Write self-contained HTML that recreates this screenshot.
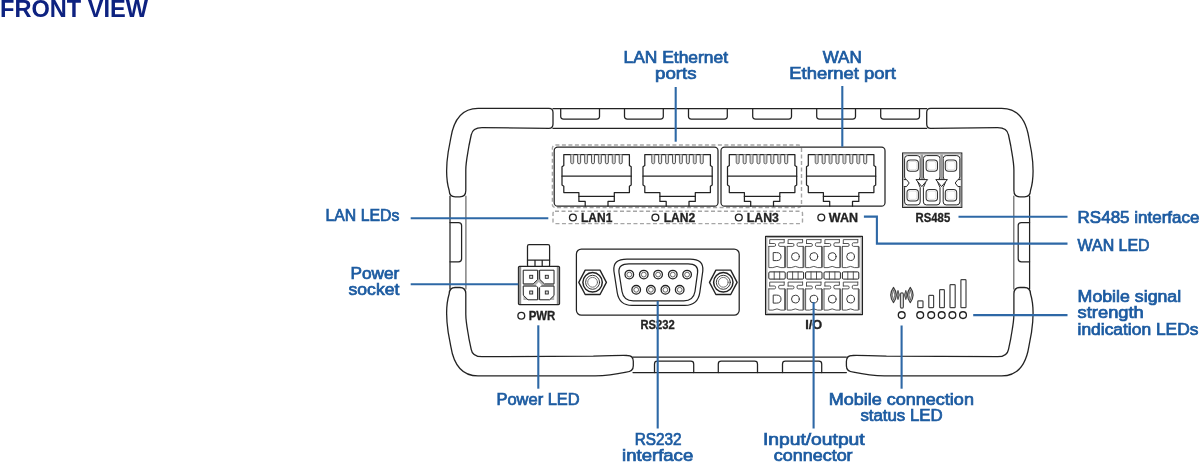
<!DOCTYPE html>
<html><head><meta charset="utf-8"><title>Front view</title>
<style>
html,body{margin:0;padding:0;background:#fff;}
body{width:1200px;height:462px;overflow:hidden;font-family:"Liberation Sans",sans-serif;}
svg{display:block;}
.lbl{font-family:"Liberation Sans",sans-serif;font-size:16px;fill:#1c5ba1;stroke:#1c5ba1;stroke-width:0.7px;}
.dev{font-family:"Liberation Sans",sans-serif;font-weight:bold;font-size:12.2px;fill:#222;stroke:#222;stroke-width:0.3px;}
.ln{stroke:#2f68a6;stroke-width:2.1;fill:none;}
.o{stroke:#242424;stroke-width:1.25;fill:none;stroke-linejoin:round;stroke-linecap:round;}
.ow{stroke:#242424;stroke-width:1.25;fill:#fff;stroke-linejoin:round;}
</style></head><body>
<svg width="1200" height="462" viewBox="0 0 1200 462">
<defs><filter id="soft" x="0" y="0" width="1200" height="462" filterUnits="userSpaceOnUse"><feGaussianBlur stdDeviation="0.38"/></filter></defs>
<rect width="1200" height="462" fill="#fff"/>
<g filter="url(#soft)">

<text x="0" y="17" font-family="Liberation Sans, sans-serif" font-weight="bold" font-size="24.5" fill="#0d2180" textLength="148" lengthAdjust="spacingAndGlyphs">FRONT VIEW</text>
<g class="o">
<path d="M553 108.5H926.7M553 128.4H926.7"/>
<path d="M633 357H846.4M633 372.5H846.4"/>
<path d="M450 196V289M1029.6 196V289"/>
<path d="M465.9 196V289M1013.8 196V289" stroke="#6a6a6a"/>
<path d="M560.7 108.5V116.6Q560.7 119.1 563.5 119.1H596.7Q599.5 119.1 599.5 116.6V108.5"/>
<path d="M624.5 108.5V116.6Q624.5 119.1 627.3 119.1H660.5Q663.3 119.1 663.3 116.6V108.5"/>
<path d="M688.5 108.5V116.6Q688.5 119.1 691.3 119.1H724.5Q727.3 119.1 727.3 116.6V108.5"/>
<path d="M752.7 108.5V116.6Q752.7 119.1 755.5 119.1H788.7Q791.5 119.1 791.5 116.6V108.5"/>
<path d="M816.7 108.5V116.6Q816.7 119.1 819.5 119.1H852.7Q855.5 119.1 855.5 116.6V108.5"/>
<path d="M880.7 108.5V116.6Q880.7 119.1 883.5 119.1H916.7Q919.5 119.1 919.5 116.6V108.5"/>
<path d="M654.5 372.5V364Q654.5 361.2 657.3 361.2H690.9Q693.7 361.2 693.7 364V372.5"/>
<path d="M718.3 372.5V364Q718.3 361.2 721.1 361.2H754.7Q757.5 361.2 757.5 364V372.5"/>
<path d="M782.5 372.5V364Q782.5 361.2 785.3 361.2H818.9Q821.7 361.2 821.7 364V372.5"/>
<path d="M450 222.5H458.5Q461.6 222.5 461.6 225.5V258.8Q461.6 261.8 458.5 261.8H450"/>
<path d="M1029.6 222.5H1021.3Q1018.2 222.5 1018.2 225.5V258.8Q1018.2 261.8 1021.3 261.8H1029.6"/>
</g>
<g style="stroke-width:1.3" class="ow">
<path d="M478 108.4H549.0Q553.0 108.4 553.0 112.5V124Q553.0 128.3 549.0 128.3L482 127.6C475 127.6 472 130 471.2 135L469 145.5C467.5 155 465.8 162 465.8 170V190.5Q465.8 196.8 459.8 196.8H455.2Q449.4 196.8 449.2 190.5C446 180 446.2 165 448.2 152L450.8 138C454 118 464 108.4 478 108.4Z"/>
<path d="M478 108.4H549.0Q553.0 108.4 553.0 112.5V124Q553.0 128.3 549.0 128.3L482 127.6C475 127.6 472 130 471.2 135L469 145.5C467.5 155 465.8 162 465.8 170V190.5Q465.8 196.8 459.8 196.8H455.2Q449.4 196.8 449.2 190.5C446 180 446.2 165 448.2 152L450.8 138C454 118 464 108.4 478 108.4Z" transform="translate(1479.70 0) scale(-1 1)"/>
<path d="M478 108.4H595.3Q609.3 108.6 626.3 112.2Q633.3 112.6 633.3 118.5V123Q633.3 128.8 627.3 128.8Q619.3 129 593.3 128.2L482 127.6C475 127.6 472 130 471.2 135L469 145.5C467.5 155 465.8 162 465.8 170V190.5Q465.8 196.8 459.8 196.8H455.2Q449.4 196.8 449.2 190.5C446 180 446.2 165 448.2 152L450.8 138C454 118 464 108.4 478 108.4Z" transform="translate(0 484.30) scale(1 -1)"/>
<path d="M478 108.4H595.3Q609.3 108.6 626.3 112.2Q633.3 112.6 633.3 118.5V123Q633.3 128.8 627.3 128.8Q619.3 129 593.3 128.2L482 127.6C475 127.6 472 130 471.2 135L469 145.5C467.5 155 465.8 162 465.8 170V190.5Q465.8 196.8 459.8 196.8H455.2Q449.4 196.8 449.2 190.5C446 180 446.2 165 448.2 152L450.8 138C454 118 464 108.4 478 108.4Z" transform="translate(1479.70 484.30) scale(-1 -1)"/>
</g>
<g fill="none" stroke="#a6a6a6" stroke-width="1.4" stroke-dasharray="4 2.5">
<rect x="552.4" y="145" width="249" height="62.5" rx="3"/>
<rect x="553" y="211.3" width="249.5" height="12.3" rx="2"/>
</g>
<g class="ow">
<rect x="554.2" y="147.2" width="163.8" height="59" rx="3.5"/>
<rect x="721" y="147.2" width="164" height="59" rx="3.5"/>
</g>
<path d="M801.5 148V206" fill="none" stroke="#a6a6a6" stroke-width="1.4" stroke-dasharray="4 2.5"/>
<path class="o" d="M563.8 165.6V154.5H629.4V165.6L631.2 166.8V185L629.4 186.2V192.6H614.3V201.4H608.0V206.2M585.2 206.2V201.4H578.9V192.6H563.8V186.2L562.0 185V166.8L563.8 165.6"/><path class="o" d="M562.0 176.2H631.2"/><path class="o" d="M578.9 196.4H614.3"/><path d="M570.70 154.5V162.2Q570.70 163.8 572.20 163.8Q573.70 163.8 573.70 162.2V154.5" fill="#d2d2d2" stroke="#5a5a5a" stroke-width="0.9"/><path d="M577.63 154.5V162.2Q577.63 163.8 579.13 163.8Q580.63 163.8 580.63 162.2V154.5" fill="#e6e6e6" stroke="#3f3f3f" stroke-width="0.9"/><path d="M584.56 154.5V162.2Q584.56 163.8 586.06 163.8Q587.56 163.8 587.56 162.2V154.5" fill="#d2d2d2" stroke="#5a5a5a" stroke-width="0.9"/><path d="M591.49 154.5V162.2Q591.49 163.8 592.99 163.8Q594.49 163.8 594.49 162.2V154.5" fill="#e6e6e6" stroke="#3f3f3f" stroke-width="0.9"/><path d="M598.42 154.5V162.2Q598.42 163.8 599.92 163.8Q601.42 163.8 601.42 162.2V154.5" fill="#d2d2d2" stroke="#5a5a5a" stroke-width="0.9"/><path d="M605.35 154.5V162.2Q605.35 163.8 606.85 163.8Q608.35 163.8 608.35 162.2V154.5" fill="#e6e6e6" stroke="#3f3f3f" stroke-width="0.9"/><path d="M612.28 154.5V162.2Q612.28 163.8 613.78 163.8Q615.28 163.8 615.28 162.2V154.5" fill="#d2d2d2" stroke="#5a5a5a" stroke-width="0.9"/><path d="M619.21 154.5V162.2Q619.21 163.8 620.71 163.8Q622.21 163.8 622.21 162.2V154.5" fill="#e6e6e6" stroke="#3f3f3f" stroke-width="0.9"/>
<path class="o" d="M644.8 165.6V154.5H710.4V165.6L712.2 166.8V185L710.4 186.2V192.6H695.3V201.4H689.0V206.2M666.2 206.2V201.4H659.9V192.6H644.8V186.2L643.0 185V166.8L644.8 165.6"/><path class="o" d="M643.0 176.2H712.2"/><path class="o" d="M659.9 196.4H695.3"/><path d="M651.70 154.5V162.2Q651.70 163.8 653.20 163.8Q654.70 163.8 654.70 162.2V154.5" fill="#d2d2d2" stroke="#5a5a5a" stroke-width="0.9"/><path d="M658.63 154.5V162.2Q658.63 163.8 660.13 163.8Q661.63 163.8 661.63 162.2V154.5" fill="#e6e6e6" stroke="#3f3f3f" stroke-width="0.9"/><path d="M665.56 154.5V162.2Q665.56 163.8 667.06 163.8Q668.56 163.8 668.56 162.2V154.5" fill="#d2d2d2" stroke="#5a5a5a" stroke-width="0.9"/><path d="M672.49 154.5V162.2Q672.49 163.8 673.99 163.8Q675.49 163.8 675.49 162.2V154.5" fill="#e6e6e6" stroke="#3f3f3f" stroke-width="0.9"/><path d="M679.42 154.5V162.2Q679.42 163.8 680.92 163.8Q682.42 163.8 682.42 162.2V154.5" fill="#d2d2d2" stroke="#5a5a5a" stroke-width="0.9"/><path d="M686.35 154.5V162.2Q686.35 163.8 687.85 163.8Q689.35 163.8 689.35 162.2V154.5" fill="#e6e6e6" stroke="#3f3f3f" stroke-width="0.9"/><path d="M693.28 154.5V162.2Q693.28 163.8 694.78 163.8Q696.28 163.8 696.28 162.2V154.5" fill="#d2d2d2" stroke="#5a5a5a" stroke-width="0.9"/><path d="M700.21 154.5V162.2Q700.21 163.8 701.71 163.8Q703.21 163.8 703.21 162.2V154.5" fill="#e6e6e6" stroke="#3f3f3f" stroke-width="0.9"/>
<path class="o" d="M729.3 165.6V154.5H794.9V165.6L796.7 166.8V185L794.9 186.2V192.6H779.8V201.4H773.5V206.2M750.7 206.2V201.4H744.4V192.6H729.3V186.2L727.5 185V166.8L729.3 165.6"/><path class="o" d="M727.5 176.2H796.7"/><path class="o" d="M744.4 196.4H779.8"/><path d="M736.20 154.5V162.2Q736.20 163.8 737.70 163.8Q739.20 163.8 739.20 162.2V154.5" fill="#d2d2d2" stroke="#5a5a5a" stroke-width="0.9"/><path d="M743.13 154.5V162.2Q743.13 163.8 744.63 163.8Q746.13 163.8 746.13 162.2V154.5" fill="#e6e6e6" stroke="#3f3f3f" stroke-width="0.9"/><path d="M750.06 154.5V162.2Q750.06 163.8 751.56 163.8Q753.06 163.8 753.06 162.2V154.5" fill="#d2d2d2" stroke="#5a5a5a" stroke-width="0.9"/><path d="M756.99 154.5V162.2Q756.99 163.8 758.49 163.8Q759.99 163.8 759.99 162.2V154.5" fill="#e6e6e6" stroke="#3f3f3f" stroke-width="0.9"/><path d="M763.92 154.5V162.2Q763.92 163.8 765.42 163.8Q766.92 163.8 766.92 162.2V154.5" fill="#d2d2d2" stroke="#5a5a5a" stroke-width="0.9"/><path d="M770.85 154.5V162.2Q770.85 163.8 772.35 163.8Q773.85 163.8 773.85 162.2V154.5" fill="#e6e6e6" stroke="#3f3f3f" stroke-width="0.9"/><path d="M777.78 154.5V162.2Q777.78 163.8 779.28 163.8Q780.78 163.8 780.78 162.2V154.5" fill="#d2d2d2" stroke="#5a5a5a" stroke-width="0.9"/><path d="M784.71 154.5V162.2Q784.71 163.8 786.21 163.8Q787.71 163.8 787.71 162.2V154.5" fill="#e6e6e6" stroke="#3f3f3f" stroke-width="0.9"/>
<path class="o" d="M808.3 165.6V154.5H873.9V165.6L875.7 166.8V185L873.9 186.2V192.6H858.8V201.4H852.5V206.2M829.7 206.2V201.4H823.4V192.6H808.3V186.2L806.5 185V166.8L808.3 165.6"/><path class="o" d="M806.5 176.2H875.7"/><path class="o" d="M823.4 196.4H858.8"/><path d="M815.20 154.5V162.2Q815.20 163.8 816.70 163.8Q818.20 163.8 818.20 162.2V154.5" fill="#d2d2d2" stroke="#5a5a5a" stroke-width="0.9"/><path d="M822.13 154.5V162.2Q822.13 163.8 823.63 163.8Q825.13 163.8 825.13 162.2V154.5" fill="#e6e6e6" stroke="#3f3f3f" stroke-width="0.9"/><path d="M829.06 154.5V162.2Q829.06 163.8 830.56 163.8Q832.06 163.8 832.06 162.2V154.5" fill="#d2d2d2" stroke="#5a5a5a" stroke-width="0.9"/><path d="M835.99 154.5V162.2Q835.99 163.8 837.49 163.8Q838.99 163.8 838.99 162.2V154.5" fill="#e6e6e6" stroke="#3f3f3f" stroke-width="0.9"/><path d="M842.92 154.5V162.2Q842.92 163.8 844.42 163.8Q845.92 163.8 845.92 162.2V154.5" fill="#d2d2d2" stroke="#5a5a5a" stroke-width="0.9"/><path d="M849.85 154.5V162.2Q849.85 163.8 851.35 163.8Q852.85 163.8 852.85 162.2V154.5" fill="#e6e6e6" stroke="#3f3f3f" stroke-width="0.9"/><path d="M856.78 154.5V162.2Q856.78 163.8 858.28 163.8Q859.78 163.8 859.78 162.2V154.5" fill="#d2d2d2" stroke="#5a5a5a" stroke-width="0.9"/><path d="M863.71 154.5V162.2Q863.71 163.8 865.21 163.8Q866.71 163.8 866.71 162.2V154.5" fill="#e6e6e6" stroke="#3f3f3f" stroke-width="0.9"/>
<circle cx="572.9" cy="217.5" r="3.4" style="stroke-width:1.35" class="o"/>
<text class="dev" x="581.0" y="221.8" textLength="31.3" lengthAdjust="spacingAndGlyphs">LAN1</text>
<circle cx="655.4" cy="217.5" r="3.4" style="stroke-width:1.35" class="o"/>
<text class="dev" x="663.7" y="221.8" textLength="31.5" lengthAdjust="spacingAndGlyphs">LAN2</text>
<circle cx="738.8" cy="217.5" r="3.4" style="stroke-width:1.35" class="o"/>
<text class="dev" x="746.8" y="221.8" textLength="32.0" lengthAdjust="spacingAndGlyphs">LAN3</text>
<circle cx="821.3" cy="217.5" r="3.4" style="stroke-width:1.35" class="o"/>
<text class="dev" x="828.8" y="221.8" textLength="29.2" lengthAdjust="spacingAndGlyphs">WAN</text>
<g>
<rect x="902.6" y="153" width="59.2" height="54.4" fill="#fff" stroke="#242424" stroke-width="1.1"/>
<rect x="903.7" y="154.1" width="57" height="52.2" fill="none" stroke="#a8a8a8" stroke-width="1"/>
<path d="M907.6 155.6H917.2Q920.2 155.6 920.2 158.6V177L918.0 182.5L920.2 187.5V201.9Q920.2 204.9 917.2 204.9H907.6Q904.6 204.9 904.6 201.9V187.5L906.8 182.5L904.6 177V158.6Q904.6 155.6 907.6 155.6Z" fill="#fff" stroke="#242424" stroke-width="1" stroke-linejoin="round"/>
<path d="M926.4 155.6H937.0Q940.0 155.6 940.0 158.6V177L937.8 182.5L940.0 187.5V201.9Q940.0 204.9 937.0 204.9H926.4Q923.4 204.9 923.4 201.9V187.5L925.6 182.5L923.4 177V158.6Q923.4 155.6 926.4 155.6Z" fill="#fff" stroke="#242424" stroke-width="1" stroke-linejoin="round"/>
<path d="M946.2 155.6H956.8Q959.8 155.6 959.8 158.6V177L957.6 182.5L959.8 187.5V201.9Q959.8 204.9 956.8 204.9H946.2Q943.2 204.9 943.2 201.9V187.5L945.4 182.5L943.2 177V158.6Q943.2 155.6 946.2 155.6Z" fill="#fff" stroke="#242424" stroke-width="1" stroke-linejoin="round"/>
<path d="M921.8 154.5V180" stroke="#9b9b9b" stroke-width="2.6" fill="none"/>
<path d="M916.0 179.6H927.6L921.8 186.6Z" fill="#fff" stroke="#242424" stroke-width="1" stroke-linejoin="round"/>
<path d="M941.6 154.5V180" stroke="#9b9b9b" stroke-width="2.6" fill="none"/>
<path d="M935.8 179.6H947.4L941.6 186.6Z" fill="#fff" stroke="#242424" stroke-width="1" stroke-linejoin="round"/>
<path d="M903.8 179.6H906.5L909.2 183L906.5 186.6H903.8M960.6 179.6H957.9L955.2 183L957.9 186.6H960.6" fill="#fff" stroke="#242424" stroke-width="1"/>
<rect x="907.0" y="159.9" width="11.4" height="11.4" rx="3.2" fill="#fff" stroke="#333" stroke-width="1.05"/>
<rect x="908.5" y="161.4" width="8.4" height="8.4" rx="2.2" fill="none" stroke="#d0d0d0" stroke-width="0.7"/>
<rect x="907.0" y="189.5" width="11.4" height="11.4" rx="3.2" fill="#fff" stroke="#333" stroke-width="1.05"/>
<rect x="908.5" y="191.0" width="8.4" height="8.4" rx="2.2" fill="none" stroke="#d0d0d0" stroke-width="0.7"/>
<rect x="926.1" y="159.9" width="11.4" height="11.4" rx="3.2" fill="#fff" stroke="#333" stroke-width="1.05"/>
<rect x="927.6" y="161.4" width="8.4" height="8.4" rx="2.2" fill="none" stroke="#d0d0d0" stroke-width="0.7"/>
<rect x="926.1" y="189.5" width="11.4" height="11.4" rx="3.2" fill="#fff" stroke="#333" stroke-width="1.05"/>
<rect x="927.6" y="191.0" width="8.4" height="8.4" rx="2.2" fill="none" stroke="#d0d0d0" stroke-width="0.7"/>
<rect x="945.3" y="159.9" width="11.4" height="11.4" rx="3.2" fill="#fff" stroke="#333" stroke-width="1.05"/>
<rect x="946.8" y="161.4" width="8.4" height="8.4" rx="2.2" fill="none" stroke="#d0d0d0" stroke-width="0.7"/>
<rect x="945.3" y="189.5" width="11.4" height="11.4" rx="3.2" fill="#fff" stroke="#333" stroke-width="1.05"/>
<rect x="946.8" y="191.0" width="8.4" height="8.4" rx="2.2" fill="none" stroke="#d0d0d0" stroke-width="0.7"/>
</g>
<text class="dev" x="915.6" y="221.8" textLength="34.6" lengthAdjust="spacingAndGlyphs">RS485</text>
<g>
<rect x="527.5" y="244.7" width="22.1" height="22" rx="1.5" class="ow"/>
<path class="o" d="M527.5 260H549.6M535 260V266.5M542.2 260V266.5"/>
<rect x="518.4" y="266.4" width="41.2" height="38.2" rx="1.2" fill="#fff" stroke="#242424" stroke-width="1.1"/>
<path d="M520.1 267V304M557.9 267V304" stroke="#8f8f8f" stroke-width="2.2" fill="none"/>
<rect x="523.4" y="270" width="30.8" height="30" fill="#b4b4b4" stroke="none"/>
<path style="stroke-width:1;fill:#fff" class="o" d="M523.6 270.2H537.6V279.6L533.2 283.9H523.6ZM540 270.2H554V283.9H544.4L540 279.6ZM523.6 286.1H537.6V299.8H528L523.6 295.5ZM540 286.1H554V295.5L549.6 299.8H540Z"/>
<path d="M538.8 282L541.8 285L538.8 288L535.8 285Z" fill="#fff" stroke="none"/>
<rect x="529.7" y="275.3" width="3" height="3" fill="#ddd" stroke="#242424" stroke-width="0.9"/>
<rect x="545.3" y="275.3" width="3" height="3" fill="#ddd" stroke="#242424" stroke-width="0.9"/>
<rect x="529.7" y="291.0" width="3" height="3" fill="#ddd" stroke="#242424" stroke-width="0.9"/>
<rect x="545.3" y="291.0" width="3" height="3" fill="#ddd" stroke="#242424" stroke-width="0.9"/>
</g>
<circle cx="521.3" cy="315.8" r="3.4" style="stroke-width:1.35" class="o"/>
<text class="dev" x="528.7" y="320.3" textLength="26.6" lengthAdjust="spacingAndGlyphs">PWR</text>
<rect x="576.4" y="249" width="162.8" height="66.2" rx="5" class="ow"/>
<path class="o" d="M627 259H690Q704 259 702.8 271L699.8 292.5Q697.8 305.4 685 305.4H632Q619.2 305.4 617.2 292.5L613.9 271Q612.6 259 627 259Z"/>
<path class="o" d="M629 263.8H688Q698.6 263.8 697.6 272.5L695 291.5Q693.4 300.8 683.8 300.8H633.2Q623.6 300.8 622 291.5L619 272.5Q618 263.8 629 263.8Z"/>
<circle cx="629.3" cy="274.6" r="4.3" style="stroke-width:1.3" class="o"/><circle cx="629.3" cy="274.6" r="2.4" fill="none" stroke="#555" stroke-width="0.9"/>
<circle cx="643.8" cy="274.6" r="4.3" style="stroke-width:1.3" class="o"/><circle cx="643.8" cy="274.6" r="2.4" fill="none" stroke="#555" stroke-width="0.9"/>
<circle cx="658.1" cy="274.6" r="4.3" style="stroke-width:1.3" class="o"/><circle cx="658.1" cy="274.6" r="2.4" fill="none" stroke="#555" stroke-width="0.9"/>
<circle cx="672.8" cy="274.6" r="4.3" style="stroke-width:1.3" class="o"/><circle cx="672.8" cy="274.6" r="2.4" fill="none" stroke="#555" stroke-width="0.9"/>
<circle cx="687.1" cy="274.6" r="4.3" style="stroke-width:1.3" class="o"/><circle cx="687.1" cy="274.6" r="2.4" fill="none" stroke="#555" stroke-width="0.9"/>
<circle cx="636.2" cy="289.8" r="4.3" style="stroke-width:1.3" class="o"/><circle cx="636.2" cy="289.8" r="2.4" fill="none" stroke="#555" stroke-width="0.9"/>
<circle cx="650.9" cy="289.8" r="4.3" style="stroke-width:1.3" class="o"/><circle cx="650.9" cy="289.8" r="2.4" fill="none" stroke="#555" stroke-width="0.9"/>
<circle cx="665.4" cy="289.8" r="4.3" style="stroke-width:1.3" class="o"/><circle cx="665.4" cy="289.8" r="2.4" fill="none" stroke="#555" stroke-width="0.9"/>
<circle cx="679.7" cy="289.8" r="4.3" style="stroke-width:1.3" class="o"/><circle cx="679.7" cy="289.8" r="2.4" fill="none" stroke="#555" stroke-width="0.9"/>
<path style="stroke-width:1.4" class="ow" d="M578.8 282.3L585.2 270.1H600.0L606.4 282.3L600.0 294.5H585.2Z"/><circle cx="592.6" cy="282.3" r="9.7" style="stroke-width:1.5" class="o"/><circle cx="592.6" cy="282.3" r="7" style="stroke-width:0.9" class="o"/><circle cx="592.6" cy="282.3" r="4.9" style="stroke-width:0.9;stroke:#666" class="o"/>
<path style="stroke-width:1.4" class="ow" d="M709.5 282.3L715.9 270.1H730.7L737.1 282.3L730.7 294.5H715.9Z"/><circle cx="723.3" cy="282.3" r="9.7" style="stroke-width:1.5" class="o"/><circle cx="723.3" cy="282.3" r="7" style="stroke-width:0.9" class="o"/><circle cx="723.3" cy="282.3" r="4.9" style="stroke-width:0.9;stroke:#666" class="o"/>
<text class="dev" x="640.5" y="329.2" textLength="34.2" lengthAdjust="spacingAndGlyphs">RS232</text>
<rect x="765.6" y="236.3" width="96.8" height="78.3" class="ow"/>
<rect x="766.8" y="237.5" width="94.4" height="75.9" fill="none" stroke="#a8a8a8" stroke-width="1.1"/>
<path style="stroke-width:0.9;stroke:#444" class="o" d="M769.7 243.5V239.6H784.2M769.7 243.5H774.4Q775.6 243.5 775.6 244.9Q775.6 246.4 774.4 246.4H768.8M784.2 239.6V242.8H779.8Q778.6 242.8 778.6 244.6Q778.6 246.4 779.8 246.4H784.8"/>
<path style="stroke-width:0.9;stroke:#444" class="o" d="M768.8 246.4V267.6Q772.8 268.2 777.0 266.4Q780.8 268.2 784.8 267.6V246.4"/>
<path d="M785.2 246.6V267.6" stroke="#5e5e5e" stroke-width="1.7"/>
<path style="stroke-width:1.0;stroke:#3a3a3a" class="o" d="M773.6 252.6H776.6Q781.0 252.6 781.0 256.6Q781.0 260.6 776.6 260.6H773.6Z"/>
<path style="stroke-width:0.9;stroke:#444" class="o" d="M769.7 286.0V282.1H784.2M769.7 286.0H774.4Q775.6 286.0 775.6 287.4Q775.6 288.9 774.4 288.9H768.8M784.2 282.1V285.3H779.8Q778.6 285.3 778.6 287.1Q778.6 288.9 779.8 288.9H784.8"/>
<path style="stroke-width:0.9;stroke:#444" class="o" d="M768.8 288.9V310.1Q772.8 310.7 777.0 308.9Q780.8 310.7 784.8 310.1V288.9"/>
<path d="M785.2 289.1V310.1" stroke="#5e5e5e" stroke-width="1.7"/>
<path style="stroke-width:1.0;stroke:#3a3a3a" class="o" d="M773.6 295.1H776.6Q781.0 295.1 781.0 299.1Q781.0 303.1 776.6 303.1H773.6Z"/>
<rect x="768.8" y="271.9" width="16.4" height="7.2" rx="1.1" style="stroke-width:1" class="ow"/>
<path style="stroke-width:0.9;stroke:#444" class="o" d="M774.2 271.9V279.1M779.7 271.9V279.1"/>
<path style="stroke-width:0.9;stroke:#444" class="o" d="M788.1 243.5V239.6H802.6M788.1 243.5H792.8Q794.0 243.5 794.0 244.9Q794.0 246.4 792.8 246.4H787.2M802.6 239.6V242.8H798.2Q797.0 242.8 797.0 244.6Q797.0 246.4 798.2 246.4H803.2"/>
<path style="stroke-width:0.9;stroke:#444" class="o" d="M787.2 246.4V267.6Q791.2 268.2 795.4 266.4Q799.2 268.2 803.2 267.6V246.4"/>
<path d="M803.6 246.6V267.6" stroke="#5e5e5e" stroke-width="1.7"/>
<circle cx="795.4" cy="256.6" r="3.9" style="stroke-width:1.0;stroke:#3a3a3a" class="o"/>
<path style="stroke-width:0.9;stroke:#444" class="o" d="M788.1 286.0V282.1H802.6M788.1 286.0H792.8Q794.0 286.0 794.0 287.4Q794.0 288.9 792.8 288.9H787.2M802.6 282.1V285.3H798.2Q797.0 285.3 797.0 287.1Q797.0 288.9 798.2 288.9H803.2"/>
<path style="stroke-width:0.9;stroke:#444" class="o" d="M787.2 288.9V310.1Q791.2 310.7 795.4 308.9Q799.2 310.7 803.2 310.1V288.9"/>
<path d="M803.6 289.1V310.1" stroke="#5e5e5e" stroke-width="1.7"/>
<circle cx="795.4" cy="299.1" r="3.9" style="stroke-width:1.0;stroke:#3a3a3a" class="o"/>
<rect x="787.2" y="271.9" width="16.4" height="7.2" rx="1.1" style="stroke-width:1" class="ow"/>
<path style="stroke-width:0.9;stroke:#444" class="o" d="M792.6 271.9V279.1M798.1 271.9V279.1"/>
<path style="stroke-width:0.9;stroke:#444" class="o" d="M806.5 243.5V239.6H821.0M806.5 243.5H811.2Q812.4 243.5 812.4 244.9Q812.4 246.4 811.2 246.4H805.6M821.0 239.6V242.8H816.6Q815.4 242.8 815.4 244.6Q815.4 246.4 816.6 246.4H821.6"/>
<path style="stroke-width:0.9;stroke:#444" class="o" d="M805.6 246.4V267.6Q809.6 268.2 813.8 266.4Q817.6 268.2 821.6 267.6V246.4"/>
<path d="M822.0 246.6V267.6" stroke="#5e5e5e" stroke-width="1.7"/>
<circle cx="813.8" cy="256.6" r="3.9" style="stroke-width:1.0;stroke:#3a3a3a" class="o"/>
<path style="stroke-width:0.9;stroke:#444" class="o" d="M806.5 286.0V282.1H821.0M806.5 286.0H811.2Q812.4 286.0 812.4 287.4Q812.4 288.9 811.2 288.9H805.6M821.0 282.1V285.3H816.6Q815.4 285.3 815.4 287.1Q815.4 288.9 816.6 288.9H821.6"/>
<path style="stroke-width:0.9;stroke:#444" class="o" d="M805.6 288.9V310.1Q809.6 310.7 813.8 308.9Q817.6 310.7 821.6 310.1V288.9"/>
<path d="M822.0 289.1V310.1" stroke="#5e5e5e" stroke-width="1.7"/>
<circle cx="813.8" cy="299.1" r="3.9" style="stroke-width:1.0;stroke:#3a3a3a" class="o"/>
<rect x="805.6" y="271.9" width="16.4" height="7.2" rx="1.1" style="stroke-width:1" class="ow"/>
<path style="stroke-width:0.9;stroke:#444" class="o" d="M811.0 271.9V279.1M816.5 271.9V279.1"/>
<path style="stroke-width:0.9;stroke:#444" class="o" d="M824.9 243.5V239.6H839.4M824.9 243.5H829.6Q830.8 243.5 830.8 244.9Q830.8 246.4 829.6 246.4H824.0M839.4 239.6V242.8H835.0Q833.8 242.8 833.8 244.6Q833.8 246.4 835.0 246.4H840.0"/>
<path style="stroke-width:0.9;stroke:#444" class="o" d="M824.0 246.4V267.6Q828.0 268.2 832.2 266.4Q836.0 268.2 840.0 267.6V246.4"/>
<path d="M840.4 246.6V267.6" stroke="#5e5e5e" stroke-width="1.7"/>
<circle cx="832.2" cy="256.6" r="3.9" style="stroke-width:1.0;stroke:#3a3a3a" class="o"/>
<path style="stroke-width:0.9;stroke:#444" class="o" d="M824.9 286.0V282.1H839.4M824.9 286.0H829.6Q830.8 286.0 830.8 287.4Q830.8 288.9 829.6 288.9H824.0M839.4 282.1V285.3H835.0Q833.8 285.3 833.8 287.1Q833.8 288.9 835.0 288.9H840.0"/>
<path style="stroke-width:0.9;stroke:#444" class="o" d="M824.0 288.9V310.1Q828.0 310.7 832.2 308.9Q836.0 310.7 840.0 310.1V288.9"/>
<path d="M840.4 289.1V310.1" stroke="#5e5e5e" stroke-width="1.7"/>
<circle cx="832.2" cy="299.1" r="3.9" style="stroke-width:1.0;stroke:#3a3a3a" class="o"/>
<rect x="824.0" y="271.9" width="16.4" height="7.2" rx="1.1" style="stroke-width:1" class="ow"/>
<path style="stroke-width:0.9;stroke:#444" class="o" d="M829.4 271.9V279.1M834.9 271.9V279.1"/>
<path style="stroke-width:0.9;stroke:#444" class="o" d="M843.3 243.5V239.6H857.8M843.3 243.5H848.0Q849.2 243.5 849.2 244.9Q849.2 246.4 848.0 246.4H842.4M857.8 239.6V242.8H853.4Q852.2 242.8 852.2 244.6Q852.2 246.4 853.4 246.4H858.4"/>
<path style="stroke-width:0.9;stroke:#444" class="o" d="M842.4 246.4V267.6Q846.4 268.2 850.6 266.4Q854.4 268.2 858.4 267.6V246.4"/>
<path d="M858.8 246.6V267.6" stroke="#5e5e5e" stroke-width="1.7"/>
<circle cx="850.6" cy="256.6" r="3.9" style="stroke-width:1.0;stroke:#3a3a3a" class="o"/>
<path style="stroke-width:0.9;stroke:#444" class="o" d="M843.3 286.0V282.1H857.8M843.3 286.0H848.0Q849.2 286.0 849.2 287.4Q849.2 288.9 848.0 288.9H842.4M857.8 282.1V285.3H853.4Q852.2 285.3 852.2 287.1Q852.2 288.9 853.4 288.9H858.4"/>
<path style="stroke-width:0.9;stroke:#444" class="o" d="M842.4 288.9V310.1Q846.4 310.7 850.6 308.9Q854.4 310.7 858.4 310.1V288.9"/>
<path d="M858.8 289.1V310.1" stroke="#5e5e5e" stroke-width="1.7"/>
<circle cx="850.6" cy="299.1" r="3.9" style="stroke-width:1.0;stroke:#3a3a3a" class="o"/>
<rect x="842.4" y="271.9" width="16.4" height="7.2" rx="1.1" style="stroke-width:1" class="ow"/>
<path style="stroke-width:0.9;stroke:#444" class="o" d="M847.8 271.9V279.1M853.3 271.9V279.1"/>
<text class="dev" x="805.2" y="329" textLength="17" lengthAdjust="spacingAndGlyphs">I/O</text>
<rect x="900.4" y="292.9" width="3" height="15.2" rx="1.3" fill="#d8d8d8" stroke="#4a4a4a" stroke-width="1.1"/>
<path d="M893.5 287.4Q887.9 295.0 893.5 302.6Q899.1 295.0 893.5 287.4Z" fill="#c4c4c4" stroke="#3c3c3c" stroke-width="1.1" stroke-linejoin="round"/>
<path d="M893.5 289.8Q890.9 295.0 893.5 300.2Q896.1 295.0 893.5 289.8Z" fill="#fff" stroke="#555" stroke-width="0.8"/>
<path d="M898.0 290.4Q895.4 295.0 898.0 299.6Q900.6 295.0 898.0 290.4Z" fill="#999" stroke="#444" stroke-width="0.9"/>
<path d="M910.3 287.4Q904.7 295.0 910.3 302.6Q915.9 295.0 910.3 287.4Z" fill="#c4c4c4" stroke="#3c3c3c" stroke-width="1.1" stroke-linejoin="round"/>
<path d="M910.3 289.8Q907.7 295.0 910.3 300.2Q912.9 295.0 910.3 289.8Z" fill="#fff" stroke="#555" stroke-width="0.8"/>
<path d="M905.8 290.4Q903.2 295.0 905.8 299.6Q908.4 295.0 905.8 290.4Z" fill="#999" stroke="#444" stroke-width="0.9"/>
<circle cx="901.7" cy="315.1" r="3.4" style="stroke-width:1.35" class="o"/>
<rect x="917.8" y="300.8" width="5.2" height="6.9" rx="0.8" fill="#fff" stroke="#444" stroke-width="1.2"/>
<rect x="928.8" y="295.3" width="4.8" height="12.4" rx="0.8" fill="#fff" stroke="#444" stroke-width="1.2"/>
<rect x="939.6" y="289.6" width="4.8" height="18.1" rx="0.8" fill="#fff" stroke="#444" stroke-width="1.2"/>
<rect x="950.0" y="284.7" width="5.2" height="23.0" rx="0.8" fill="#fff" stroke="#444" stroke-width="1.2"/>
<rect x="960.9" y="279.7" width="5.1" height="28.0" rx="0.8" fill="#fff" stroke="#444" stroke-width="1.2"/>
<circle cx="920.2" cy="315.1" r="3.4" style="stroke-width:1.35" class="o"/>
<circle cx="931.2" cy="315.1" r="3.4" style="stroke-width:1.35" class="o"/>
<circle cx="941.7" cy="315.1" r="3.4" style="stroke-width:1.35" class="o"/>
<circle cx="952.4" cy="315.1" r="3.4" style="stroke-width:1.35" class="o"/>
<circle cx="963.0" cy="315.1" r="3.4" style="stroke-width:1.35" class="o"/>
<g class="ln">
<path d="M410.7 218.2H548.3"/>
<path d="M410.7 284.3H518.3"/>
<path d="M675.7 87V141.7"/>
<path d="M842.3 86V146.8"/>
<path d="M958.5 216.8H1067.5"/>
<path d="M863.9 216.6H876.9V243.6H1067.5"/>
<path d="M973.2 315.1H1067.5"/>
<path d="M538.3 325.3V388.7"/>
<path d="M657.7 301V428.5"/>
<path d="M813.6 302V428.5"/>
<path d="M901.6 325.5V388.7"/>
</g>
<text class="lbl" x="623.5" y="62.7" textLength="104.5" lengthAdjust="spacingAndGlyphs">LAN Ethernet</text>
<text class="lbl" x="655.0" y="79.0" textLength="41.5" lengthAdjust="spacingAndGlyphs">ports</text>
<text class="lbl" x="822.7" y="62.7" textLength="39.0" lengthAdjust="spacingAndGlyphs">WAN</text>
<text class="lbl" x="789.3" y="79.0" textLength="106.5" lengthAdjust="spacingAndGlyphs">Ethernet port</text>
<text class="lbl" x="325.5" y="221.4" textLength="73.8" lengthAdjust="spacingAndGlyphs">LAN LEDs</text>
<text class="lbl" x="350.5" y="279.0" textLength="48.8" lengthAdjust="spacingAndGlyphs">Power</text>
<text class="lbl" x="348.6" y="294.6" textLength="50.7" lengthAdjust="spacingAndGlyphs">socket</text>
<text class="lbl" x="1077.6" y="222.5" textLength="121.8" lengthAdjust="spacingAndGlyphs">RS485 interface</text>
<text class="lbl" x="1077.6" y="250.8" textLength="72.0" lengthAdjust="spacingAndGlyphs">WAN LED</text>
<text class="lbl" x="1077.6" y="302.2" textLength="103.6" lengthAdjust="spacingAndGlyphs">Mobile signal</text>
<text class="lbl" x="1077.6" y="318.4" textLength="66.2" lengthAdjust="spacingAndGlyphs">strength</text>
<text class="lbl" x="1077.6" y="334.6" textLength="120.8" lengthAdjust="spacingAndGlyphs">indication LEDs</text>
<text class="lbl" x="496.5" y="405.1" textLength="83.2" lengthAdjust="spacingAndGlyphs">Power LED</text>
<text class="lbl" x="634.7" y="445.0" textLength="46.8" lengthAdjust="spacingAndGlyphs">RS232</text>
<text class="lbl" x="622.1" y="461.0" textLength="71.1" lengthAdjust="spacingAndGlyphs">interface</text>
<text class="lbl" x="762.9" y="444.5" textLength="101.8" lengthAdjust="spacingAndGlyphs">Input/output</text>
<text class="lbl" x="773.8" y="460.6" textLength="78.8" lengthAdjust="spacingAndGlyphs">connector</text>
<text class="lbl" x="828.8" y="405.0" textLength="145.1" lengthAdjust="spacingAndGlyphs">Mobile connection</text>
<text class="lbl" x="860.4" y="421.2" textLength="82.3" lengthAdjust="spacingAndGlyphs">status LED</text>
</g></svg></body></html>
